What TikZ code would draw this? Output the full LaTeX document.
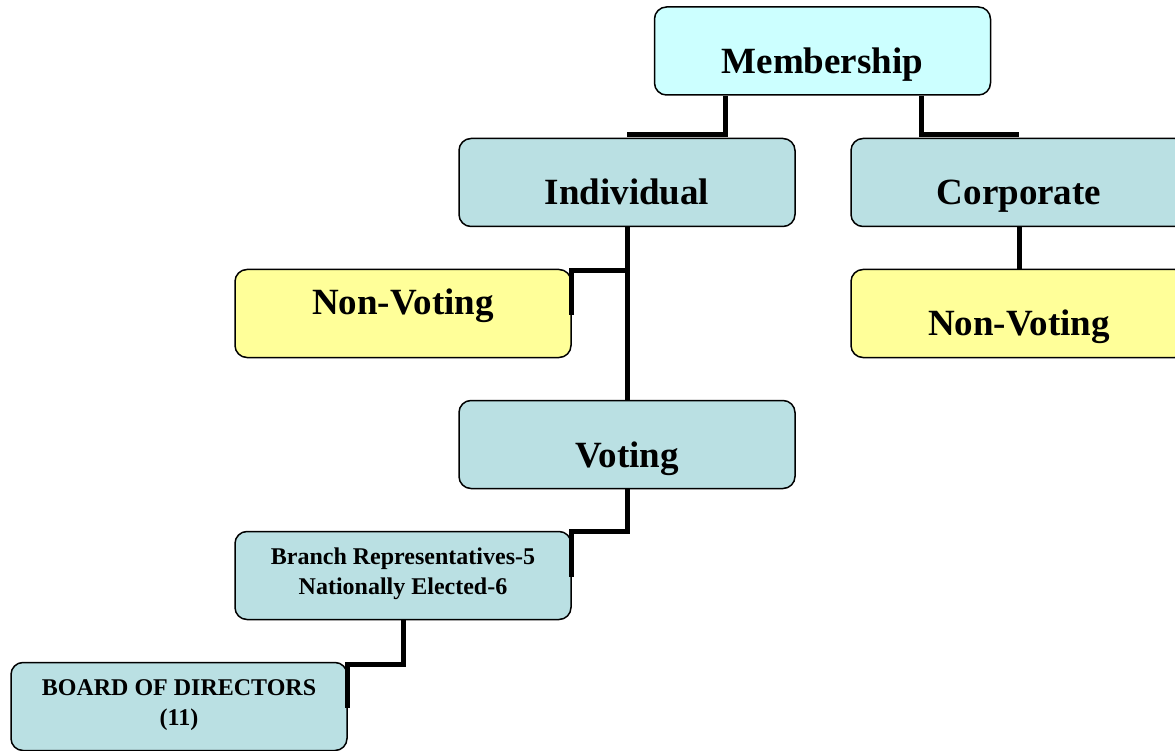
\documentclass[tikz,border=0pt]{standalone}
\usepackage{fontspec}
\setmainfont{Liberation Serif}
\definecolor{cyanfill}{HTML}{CCFFFF}
\definecolor{bluefill}{HTML}{BAE0E3}
\definecolor{yellowfill}{HTML}{FFFF99}
\tikzset{
  box/.style={draw=black, line width=1.5pt, rounded corners=12pt, minimum width=336pt, minimum height=88pt, inner sep=0pt, font=\bfseries\fontsize{37}{42}\selectfont, text height=44pt, text depth=0pt},
  smallbox/.style={draw=black, line width=1.5pt, rounded corners=12pt, minimum width=336pt, minimum height=88pt, inner sep=0pt, align=center, font=\bfseries\fontsize{24}{30}\selectfont, text height=38pt, text depth=0pt},
  conn/.style={draw=black, line width=5pt, line join=miter, line cap=butt},
}
\begin{document}
\begin{tikzpicture}[x=1pt, y=-1pt]
\useasboundingbox (0,0) rectangle (1175,751);
\clip (0,0) rectangle (1175,751);
\node[box, fill=cyanfill, text height=46pt] (mem) at (822.5,51) {Membership};
\node[box, fill=bluefill] (ind) at (627,182.5) {Individual};
\node[box, fill=bluefill] (corp) at (1019,182.5) {Corporate};
\node[box, fill=yellowfill, text height=3pt] (nvl) at (403,313.5) {Non-Voting};
\node[box, fill=yellowfill] (nvr) at (1019,313.5) {Non-Voting};
\node[box, fill=bluefill, text height=45pt] (vot) at (627,444.5) {Voting};
\node[smallbox, fill=bluefill] (br) at (403,575.5) {Branch Representatives-5\\Nationally Elected-6};
\node[smallbox, fill=bluefill] (bod) at (179,706.5) {BOARD OF DIRECTORS\\(11)};
\draw[conn] ([xshift=-97.5pt]mem.south) |- ([yshift=3pt]ind.north);
\draw[conn] ([xshift=98.5pt]mem.south) |- ([yshift=3pt]corp.north);
\draw[conn] (ind.south) -- (vot.north);
\draw[conn] ([yshift=-43pt]ind.south) -| ([yshift=-1.5pt]nvl.east);
\draw[conn] (corp.south) -- (nvr.north);
\draw[conn] (vot.south) -- ++(0,42) -| ([yshift=-1pt]br.east);
\draw[conn] (br.south) -- ++(0,44) -| ([yshift=-1pt]bod.east);
\end{tikzpicture}
\end{document}
